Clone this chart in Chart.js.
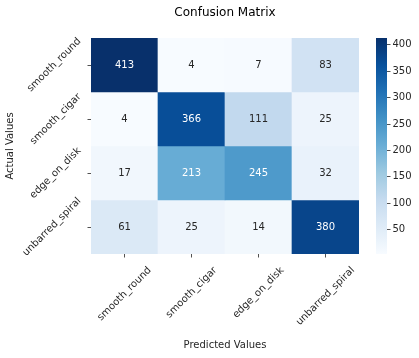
<!DOCTYPE html>
<html><head><meta charset="utf-8">
<script src="https://cdn.jsdelivr.net/npm/chart.js@4"></script>
<style>
html,body{margin:0;padding:0;background:#fff;}
#wrap{position:relative;width:419px;height:358px;overflow:hidden;}
#main{position:absolute;left:0;top:0;}
#cbar{position:absolute;left:376px;top:0;}
</style></head><body>
<div id="wrap">
<canvas id="main" width="419" height="358"></canvas>
<canvas id="cbar" width="43" height="358"></canvas>
</div>
<script>
// ---- data ----
const predictedLabels = ['smooth_round', 'smooth_cigar', 'edge_on_disk', 'unbarred_spiral'];
const actualLabels = ['smooth_round', 'smooth_cigar', 'edge_on_disk', 'unbarred_spiral'];
const smoothRoundRow = [413, 4, 7, 83];
const smoothCigarRow = [4, 366, 111, 25];
const edgeOnDiskRow = [17, 213, 245, 32];
const unbarredSpiralRow = [61, 25, 14, 380];
const colorbarTicks = [50, 100, 150, 200, 250, 300, 350, 400];

const rows = [smoothRoundRow, smoothCigarRow, edgeOnDiskRow, unbarredSpiralRow];
const allVals = rows.flat();
const vmin = Math.min(...allVals);
const vmax = Math.max(...allVals);

// ---- Blues colormap ----
const BLUES = ['#f7fbff','#deebf7','#c6dbef','#9ecae1','#6baed6','#4292c6','#2171b5','#08519c','#08306b'];
const hex2rgb = h => [1,3,5].map(i => parseInt(h.substr(i,2),16));
const BLUES_RGB = BLUES.map(hex2rgb);
function bluesRGB(t) {
  t = Math.max(0, Math.min(1, t));
  const p = t * (BLUES.length - 1);
  const i = Math.min(BLUES.length - 2, Math.floor(p));
  const f = p - i;
  const a = BLUES_RGB[i], b = BLUES_RGB[i+1];
  return a.map((c, k) => c + (b[k] - c) * f);
}
const rgbStr = c => `rgb(${c.map(Math.round).join(',')})`;
const colorFor = v => rgbStr(bluesRGB((v - vmin) / (vmax - vmin)));
function luminance(c) {
  const lin = c.map(x => { x /= 255; return x <= 0.03928 ? x / 12.92 : Math.pow((x + 0.055) / 1.055, 2.4); });
  return 0.2126 * lin[0] + 0.7152 * lin[1] + 0.0722 * lin[2];
}
const textColorFor = v => luminance(bluesRGB((v - vmin) / (vmax - vmin))) > 0.408 ? '#262626' : '#ffffff';

const FAMILY = '"DejaVu Sans", sans-serif';
Chart.defaults.font.family = FAMILY;
Chart.defaults.color = '#262626';

const mctx = document.createElement('canvas').getContext('2d');
mctx.font = '10px ' + FAMILY;
const textW = s => mctx.measureText(s).width;

const datasets = rows.map((row, r) => ({
  label: actualLabels[r],
  data: row.map(() => [r, r + 1]),
  values: row,
  backgroundColor: row.map(colorFor),
  borderWidth: 0,
  barPercentage: 1,
  categoryPercentage: 1,
  grouped: false
}));

const annotate = {
  id: 'annotate',
  afterDatasetsDraw(chart) {
    const c = chart.ctx;
    c.save();
    c.font = '10px ' + FAMILY;
    c.textAlign = 'center';
    c.textBaseline = 'middle';
    chart.data.datasets.forEach((ds, i) => {
      chart.getDatasetMeta(i).data.forEach((el, j) => {
        const v = ds.values[j];
        const p = el.getCenterPoint();
        c.fillStyle = textColorFor(v);
        c.fillText(String(v), p.x, p.y);
      });
    });
    c.restore();
  }
};

// centre rotated tick labels on their ticks (matplotlib style)
const centreLabels = {
  id: 'centreLabels',
  beforeDraw(chart) {
    const k = 0.3536;
    const xs = chart.scales.x, ys = chart.scales.y;
    xs.getLabelItems(chart.chartArea).forEach(it => {
      const w = textW(String(it.label));
      it.options.translation = [it.options.translation[0] + k * w, it.options.translation[1]];
    });
    ys.getLabelItems(chart.chartArea).forEach(it => {
      const w = textW(String(it.label));
      it.options.translation = [it.options.translation[0], it.options.translation[1] - k * w];
    });
  }
};

const tickGrid = {drawOnChartArea: false, drawTicks: true, tickLength: 3.5, color: '#262626', tickWidth: 0.8, offset: false};

new Chart(document.getElementById('main'), {
  type: 'bar',
  data: {labels: predictedLabels, datasets},
  plugins: [annotate, centreLabels],
  options: {
    responsive: false,
    animation: false,
    layout: {padding: {left: 0, right: 60, top: 0, bottom: 0}},
    plugins: {
      legend: {display: false},
      tooltip: {enabled: false},
      title: {display: true, text: 'Confusion Matrix', fullSize: false, color: '#000',
        font: {size: 12, weight: 'normal'}, padding: {top: 5.3, bottom: 18.3}}
    },
    scales: {
      x: {
        type: 'category', offset: true,
        grid: tickGrid, border: {display: false},
        ticks: {minRotation: 45, maxRotation: 45, autoSkip: false, padding: 7, font: {size: 10}},
        title: {display: true, text: 'Predicted Values', font: {size: 10}, padding: {top: 0, bottom: 7}},
        afterFit: s => { s.height = 104; s.paddingLeft = 0; s.paddingRight = 0; }
      },
      y: {
        type: 'linear', min: 0, max: 4, reverse: true,
        afterBuildTicks: s => { s.ticks = actualLabels.map((_, i) => ({value: i + 0.5})); },
        grid: tickGrid, border: {display: false},
        ticks: {minRotation: 45, maxRotation: 45, autoSkip: false, padding: 8, font: {size: 10},
          callback: (v, i) => actualLabels[i]},
        title: {display: true, text: 'Actual Values', font: {size: 10}, padding: {top: 4.5, bottom: 0}},
        afterFit: s => { s.width = 91; s.paddingTop = 0; s.paddingBottom = 0; }
      }
    }
  }
});

new Chart(document.getElementById('cbar'), {
  type: 'bar',
  data: {labels: ['colorbar'], datasets: [{
    data: [[vmin, vmax]],
    borderWidth: 0, barPercentage: 1, categoryPercentage: 1,
    backgroundColor: ctx => {
      const ch = ctx.chart, ys = ch.scales.y;
      if (!ch.chartArea || !ys) return BLUES[4];
      const g = ch.ctx.createLinearGradient(0, ys.getPixelForValue(vmin), 0, ys.getPixelForValue(vmax));
      BLUES.forEach((c, i) => g.addColorStop(i / (BLUES.length - 1), c));
      return g;
    }
  }]},
  options: {
    responsive: false,
    animation: false,
    layout: {padding: {top: 38, bottom: 104, left: 0, right: 0}},
    plugins: {legend: {display: false}, tooltip: {enabled: false}},
    scales: {
      x: {display: false},
      y: {
        position: 'right', min: vmin, max: vmax,
        afterBuildTicks: s => { s.ticks = colorbarTicks.map(v => ({value: v})); },
        grid: {drawOnChartArea: false, drawTicks: true, tickLength: 3.5, color: '#262626', tickWidth: 0.8},
        border: {display: false},
        ticks: {padding: 2, font: {size: 10}},
        afterFit: s => { s.width = 32; s.paddingTop = 0; s.paddingBottom = 0; }
      }
    }
  }
});
</script>
</body></html>
